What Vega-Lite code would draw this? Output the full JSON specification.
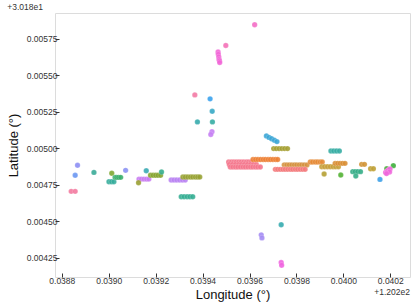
{
  "$schema": "https://vega.github.io/schema/vega-lite/v6.json",
  "width": 355,
  "height": 264,
  "autosize": {"type": "none"},
  "padding": {"left": 55, "top": 13, "right": 5, "bottom": 31},
  "background": "white",
  "config": {
    "view": {"stroke": "#dcdcdc", "strokeWidth": 1},
    "font": "Liberation Sans",
    "axis": {"grid": false, "domain": false, "tickColor": "#333333", "labelColor": "#333333", "labelFontSize": 8.5, "titleFontSize": 13, "titleFontWeight": "normal", "titleColor": "#111111", "labelFont": "Liberation Sans", "titleFont": "Liberation Sans"}
  },
  "title": {"text": "+3.018e1", "anchor": "start", "fontSize": 8.5, "fontWeight": "normal", "color": "#333333", "offset": 2, "font": "Liberation Sans"},
  "datasets": {
    "pts": [
      {"id":"t01","lon":0.038840,"lat":0.004704},{"id":"t01","lon":0.038857,"lat":0.004704},
      {"id":"t02","lon":0.038867,"lat":0.004883},
      {"id":"t03","lon":0.038857,"lat":0.004814},
      {"id":"t04","lon":0.038937,"lat":0.004834},
      {"id":"t05","lon":0.039013,"lat":0.004828},
      {"id":"t06","lon":0.039001,"lat":0.004770},{"id":"t06","lon":0.039012,"lat":0.004770},{"id":"t06","lon":0.039022,"lat":0.004770},
      {"id":"t07","lon":0.039027,"lat":0.004800},{"id":"t07","lon":0.039034,"lat":0.004800},{"id":"t07","lon":0.039042,"lat":0.004800},{"id":"t07","lon":0.039051,"lat":0.004800},
      {"id":"t08","lon":0.039072,"lat":0.004848},
      {"id":"t09","lon":0.039160,"lat":0.004845},
      {"id":"t10","lon":0.039129,"lat":0.004788},{"id":"t10","lon":0.039139,"lat":0.004788},{"id":"t10","lon":0.039150,"lat":0.004788},{"id":"t10","lon":0.039161,"lat":0.004788},{"id":"t10","lon":0.039171,"lat":0.004788},
      {"id":"t11","lon":0.039127,"lat":0.004763},
      {"id":"t12","lon":0.039178,"lat":0.004814},{"id":"t12","lon":0.039189,"lat":0.004814},{"id":"t12","lon":0.039200,"lat":0.004814},{"id":"t12","lon":0.039210,"lat":0.004814},{"id":"t12","lon":0.039221,"lat":0.004814},
      {"id":"t13","lon":0.039225,"lat":0.004837},
      {"id":"t14","lon":0.039266,"lat":0.004782},{"id":"t14","lon":0.039278,"lat":0.004782},{"id":"t14","lon":0.039290,"lat":0.004782},{"id":"t14","lon":0.039302,"lat":0.004782},{"id":"t14","lon":0.039314,"lat":0.004782},{"id":"t14","lon":0.039326,"lat":0.004782},
      {"id":"t15","lon":0.039316,"lat":0.004802},{"id":"t15","lon":0.039326,"lat":0.004802},{"id":"t15","lon":0.039337,"lat":0.004802},{"id":"t15","lon":0.039348,"lat":0.004802},{"id":"t15","lon":0.039358,"lat":0.004802},{"id":"t15","lon":0.039369,"lat":0.004802},{"id":"t15","lon":0.039379,"lat":0.004802},{"id":"t15","lon":0.039388,"lat":0.004802},
      {"id":"t16","lon":0.039309,"lat":0.004667},{"id":"t16","lon":0.039321,"lat":0.004667},{"id":"t16","lon":0.039334,"lat":0.004667},{"id":"t16","lon":0.039346,"lat":0.004667},{"id":"t16","lon":0.039358,"lat":0.004667},
      {"id":"t17","lon":0.039367,"lat":0.005365},
      {"id":"t18","lon":0.039378,"lat":0.005180},
      {"id":"t19","lon":0.039432,"lat":0.005338},
      {"id":"t20","lon":0.039441,"lat":0.005253},
      {"id":"t21","lon":0.039442,"lat":0.005180},
      {"id":"t22","lon":0.039440,"lat":0.005113},{"id":"t22","lon":0.039435,"lat":0.005094},
      {"id":"t23","lon":0.039499,"lat":0.005704},
      {"id":"t24","lon":0.039466,"lat":0.005659},{"id":"t24","lon":0.039467,"lat":0.005644},{"id":"t24","lon":0.039469,"lat":0.005626},{"id":"t24","lon":0.039470,"lat":0.005609},{"id":"t24","lon":0.039472,"lat":0.005599},{"id":"t24","lon":0.039473,"lat":0.005587},
      {"id":"t25","lon":0.039622,"lat":0.005846},
      {"id":"t26","lon":0.039672,"lat":0.005084},{"id":"t26","lon":0.039683,"lat":0.005074},{"id":"t26","lon":0.039694,"lat":0.005065},{"id":"t26","lon":0.039706,"lat":0.005054},{"id":"t26","lon":0.039717,"lat":0.005045},
      {"id":"t27","lon":0.039703,"lat":0.004997},{"id":"t27","lon":0.039714,"lat":0.004997},{"id":"t27","lon":0.039726,"lat":0.004997},{"id":"t27","lon":0.039738,"lat":0.004997},{"id":"t27","lon":0.039750,"lat":0.004997},{"id":"t27","lon":0.039762,"lat":0.004997},
      {"id":"t28","lon":0.039947,"lat":0.004981},{"id":"t28","lon":0.039959,"lat":0.004981},{"id":"t28","lon":0.039971,"lat":0.004981},{"id":"t28","lon":0.039983,"lat":0.004981},
      {"id":"t29","lon":0.039511,"lat":0.004905},{"id":"t29","lon":0.039522,"lat":0.004905},{"id":"t29","lon":0.039533,"lat":0.004905},{"id":"t29","lon":0.039543,"lat":0.004905},{"id":"t29","lon":0.039554,"lat":0.004905},{"id":"t29","lon":0.039564,"lat":0.004905},{"id":"t29","lon":0.039575,"lat":0.004905},{"id":"t29","lon":0.039586,"lat":0.004905},{"id":"t29","lon":0.039596,"lat":0.004905},{"id":"t29","lon":0.039607,"lat":0.004905},{"id":"t29","lon":0.039618,"lat":0.004905},
      {"id":"t29","lon":0.039514,"lat":0.004888},{"id":"t29","lon":0.039527,"lat":0.004888},{"id":"t29","lon":0.039540,"lat":0.004888},{"id":"t29","lon":0.039553,"lat":0.004888},{"id":"t29","lon":0.039565,"lat":0.004888},{"id":"t29","lon":0.039578,"lat":0.004888},{"id":"t29","lon":0.039591,"lat":0.004888},{"id":"t29","lon":0.039604,"lat":0.004888},{"id":"t29","lon":0.039616,"lat":0.004888},{"id":"t29","lon":0.039629,"lat":0.004888},
      {"id":"t29","lon":0.039518,"lat":0.004871},{"id":"t29","lon":0.039529,"lat":0.004871},{"id":"t29","lon":0.039540,"lat":0.004871},{"id":"t29","lon":0.039550,"lat":0.004871},{"id":"t29","lon":0.039561,"lat":0.004871},{"id":"t29","lon":0.039572,"lat":0.004871},{"id":"t29","lon":0.039582,"lat":0.004871},{"id":"t29","lon":0.039593,"lat":0.004871},{"id":"t29","lon":0.039604,"lat":0.004871},{"id":"t29","lon":0.039614,"lat":0.004871},{"id":"t29","lon":0.039625,"lat":0.004871},{"id":"t29","lon":0.039635,"lat":0.004871},{"id":"t29","lon":0.039646,"lat":0.004871},
      {"id":"t30","lon":0.039615,"lat":0.004922},{"id":"t30","lon":0.039626,"lat":0.004922},{"id":"t30","lon":0.039636,"lat":0.004922},{"id":"t30","lon":0.039647,"lat":0.004922},{"id":"t30","lon":0.039658,"lat":0.004922},{"id":"t30","lon":0.039668,"lat":0.004922},{"id":"t30","lon":0.039679,"lat":0.004922},{"id":"t30","lon":0.039689,"lat":0.004922},{"id":"t30","lon":0.039700,"lat":0.004922},{"id":"t30","lon":0.039711,"lat":0.004922},{"id":"t30","lon":0.039720,"lat":0.004922},
      {"id":"t31","lon":0.039748,"lat":0.004885},{"id":"t31","lon":0.039759,"lat":0.004885},{"id":"t31","lon":0.039769,"lat":0.004885},{"id":"t31","lon":0.039780,"lat":0.004885},{"id":"t31","lon":0.039791,"lat":0.004885},{"id":"t31","lon":0.039801,"lat":0.004885},{"id":"t31","lon":0.039812,"lat":0.004885},{"id":"t31","lon":0.039822,"lat":0.004885},{"id":"t31","lon":0.039833,"lat":0.004885},{"id":"t31","lon":0.039845,"lat":0.004885},
      {"id":"t32","lon":0.039710,"lat":0.004855},{"id":"t32","lon":0.039720,"lat":0.004855},{"id":"t32","lon":0.039731,"lat":0.004855},{"id":"t32","lon":0.039742,"lat":0.004855},{"id":"t32","lon":0.039752,"lat":0.004855},{"id":"t32","lon":0.039763,"lat":0.004855},{"id":"t32","lon":0.039774,"lat":0.004855},{"id":"t32","lon":0.039784,"lat":0.004855},{"id":"t32","lon":0.039795,"lat":0.004855},{"id":"t32","lon":0.039805,"lat":0.004855},{"id":"t32","lon":0.039816,"lat":0.004855},{"id":"t32","lon":0.039827,"lat":0.004855},{"id":"t32","lon":0.039837,"lat":0.004855},
      {"id":"t33","lon":0.039859,"lat":0.004905},{"id":"t33","lon":0.039869,"lat":0.004905},{"id":"t33","lon":0.039880,"lat":0.004905},{"id":"t33","lon":0.039890,"lat":0.004905},{"id":"t33","lon":0.039901,"lat":0.004905},{"id":"t33","lon":0.039910,"lat":0.004905},
      {"id":"t34","lon":0.039908,"lat":0.004873},{"id":"t34","lon":0.039920,"lat":0.004873},{"id":"t34","lon":0.039932,"lat":0.004873},{"id":"t34","lon":0.039944,"lat":0.004873},{"id":"t34","lon":0.039956,"lat":0.004873},{"id":"t34","lon":0.039967,"lat":0.004873},{"id":"t34","lon":0.039979,"lat":0.004873},
      {"id":"t35","lon":0.039965,"lat":0.004896},{"id":"t35","lon":0.039976,"lat":0.004896},{"id":"t35","lon":0.039986,"lat":0.004896},{"id":"t35","lon":0.039997,"lat":0.004896},{"id":"t35","lon":0.040007,"lat":0.004896},
      {"id":"t36","lon":0.039918,"lat":0.004823},
      {"id":"t37","lon":0.039989,"lat":0.004816},
      {"id":"t38","lon":0.040040,"lat":0.004839},{"id":"t38","lon":0.040050,"lat":0.004839},{"id":"t38","lon":0.040061,"lat":0.004839},{"id":"t38","lon":0.040073,"lat":0.004839},{"id":"t38","lon":0.040053,"lat":0.004809},
      {"id":"t39","lon":0.040078,"lat":0.004889},{"id":"t39","lon":0.040090,"lat":0.004889},
      {"id":"t40","lon":0.040116,"lat":0.004859},{"id":"t40","lon":0.040128,"lat":0.004859},
      {"id":"t41","lon":0.040213,"lat":0.004880},
      {"id":"t42","lon":0.040185,"lat":0.004859},
      {"id":"t43","lon":0.040180,"lat":0.004833},{"id":"t43","lon":0.040186,"lat":0.004843},{"id":"t43","lon":0.040192,"lat":0.004850},{"id":"t43","lon":0.040199,"lat":0.004857},{"id":"t43","lon":0.040197,"lat":0.004837},{"id":"t43","lon":0.040184,"lat":0.004826},
      {"id":"t44","lon":0.040156,"lat":0.004786},
      {"id":"t45","lon":0.039735,"lat":0.004475},
      {"id":"t46","lon":0.039650,"lat":0.004406},{"id":"t46","lon":0.039653,"lat":0.004385},
      {"id":"t47","lon":0.039735,"lat":0.004216},{"id":"t47","lon":0.039737,"lat":0.004198}
    ]
  },
  "layer": [
    {
      "data": {"name": "pts"},
      "mark": {"type": "point", "filled": true, "size": 29, "opacity": 0.9, "stroke": "white", "strokeWidth": 0.4, "strokeOpacity": 0.5},
      "encoding": {
        "x": {"field": "lon", "type": "quantitative",
              "scale": {"domain": [0.038771, 0.040284], "nice": false, "zero": false},
              "axis": {"title": "Longitude (°)", "values": [0.0388, 0.039, 0.0392, 0.0394, 0.0396, 0.0398, 0.04, 0.0402], "format": ".4f", "tickSize": -4, "labelPadding": 3, "titlePadding": 4}},
        "y": {"field": "lat", "type": "quantitative",
              "scale": {"domain": [0.004117, 0.0059265], "nice": false, "zero": false},
              "axis": {"title": "Latitude (°)", "values": [0.00425, 0.0045, 0.00475, 0.005, 0.00525, 0.0055, 0.00575], "format": ".5f", "tickSize": -4, "labelPadding": 2, "titlePadding": 6}},
        "color": {"field": "id", "type": "nominal", "legend": null,
                  "scale": {"domain": ["t01","t02","t03","t04","t05","t06","t07","t08","t09","t10","t11","t12","t13","t14","t15","t16","t17","t18","t19","t20","t21","t22","t23","t24","t25","t26","t27","t28","t29","t30","t31","t32","t33","t34","t35","t36","t37","t38","t39","t40","t41","t42","t43","t44","t45","t46","t47"],
                            "range": ["#f37ba0","#8d8ff5","#6b97f2","#3aab98","#7fa831","#36ad9c","#3aaf6c","#8b92f4","#38aab3","#c97cf2","#9aa032","#86a530","#35ae8e","#b982f3","#97a232","#34ae93","#f37aa5","#37abad","#3aa2ee","#38a9c6","#36ada4","#c67ff4","#f472b8","#f266d8","#f46dc6","#3aa6d6","#a6a033","#36ada4","#f5768c","#ee8135","#d59240","#f47a7c","#e68a35","#c7a03a","#da8f35","#b5a034","#53b234","#36ae88","#d29436","#bfa035","#3fb03d","#49ad3b","#f066dc","#3ca0e8","#36abb0","#a58cf4","#f063e0"]}}
      }
    },
    {
      "data": {"values": [{"label": "+1.202e2"}]},
      "mark": {"type": "text", "align": "right", "baseline": "top", "dy": 11, "fontSize": 8.5, "color": "#333333", "clip": false},
      "encoding": {
        "x": {"datum": 0.040284, "type": "quantitative"},
        "y": {"datum": 0.004117, "type": "quantitative"},
        "text": {"field": "label"}
      }
    }
  ]
}
